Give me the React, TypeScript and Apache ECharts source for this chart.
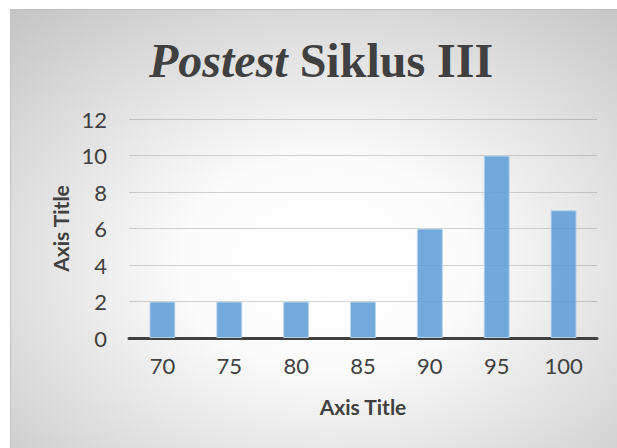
import React, { useEffect, useRef } from "react";
import * as echarts from "echarts";

const categories = ["70", "75", "80", "85", "90", "95", "100"];
const values = [2, 2, 2, 2, 6, 10, 7];
const yTicks = { min: 0, max: 12, interval: 2 };
const titleItalic = "Postest";
const titleRest = "Siklus III";
const xAxisTitle = "Axis Title";
const yAxisTitle = "Axis Title";

export default function App() {
  const ref = useRef<HTMLDivElement>(null);
  useEffect(() => {
    if (!ref.current) return;
    const chart = echarts.init(ref.current, undefined, { renderer: "svg" });
    const serif = {
      fontFamily: "Liberation Serif",
      fontWeight: "bold",
      fontSize: 48,
      color: "#404040",
    };
    chart.setOption({
      animation: false,
      backgroundColor: {
        type: "radial",
        x: 0.52,
        y: 0.58,
        r: 0.8,
        colorStops: [
          { offset: 0, color: "#ffffff" },
          { offset: 0.3, color: "#fbfbfb" },
          { offset: 1, color: "#c2c2c2" },
        ],
      },
      title: {
        text: `{i|${titleItalic}\u00a0}{b|${titleRest}}`,
        left: 138,
        top: 26,
        padding: 0,
        textStyle: {
          rich: {
            i: { ...serif, fontStyle: "italic" },
            b: { ...serif },
          },
        },
      },
      grid: { left: 118, right: 20, top: 109, bottom: 110 },
      xAxis: {
        type: "category",
        data: categories,
        name: xAxisTitle,
        nameLocation: "middle",
        nameGap: 58,
        nameTextStyle: {
          fontFamily: "Lato",
          fontWeight: "bold",
          fontSize: 21,
          color: "#404040",
        },
        axisLine: { lineStyle: { color: "#404040", width: 3 } },
        axisTick: { show: false },
        axisLabel: {
          margin: 16,
          fontFamily: "Lato",
          fontSize: 22,
          color: "#404040",
        },
      },
      yAxis: {
        type: "value",
        min: yTicks.min,
        max: yTicks.max,
        interval: yTicks.interval,
        name: yAxisTitle,
        nameLocation: "middle",
        nameGap: 58,
        nameTextStyle: {
          fontFamily: "Lato",
          fontWeight: "bold",
          fontSize: 21,
          color: "#404040",
        },
        axisLine: { show: false },
        axisTick: { show: false },
        axisLabel: {
          margin: 22,
          fontFamily: "Lato",
          fontSize: 22,
          color: "#404040",
        },
        splitLine: { lineStyle: { color: "rgba(0,0,0,0.16)", width: 1 } },
      },
      series: [
        {
          type: "bar",
          data: values,
          barWidth: 26,
          itemStyle: {
            color: "rgba(91,155,213,0.85)",
            borderColor: "rgba(189,215,238,0.9)",
            borderWidth: 1,
          },
        },
      ],
    });
    return () => chart.dispose();
  }, []);
  return (
    <div
      style={{
        position: "absolute",
        left: 10,
        top: 9,
        width: 607,
        height: 439,
        borderTop: "1px solid #bfbfbf",
        borderLeft: "1px solid #c4c4c4",
        boxSizing: "border-box",
      }}
    >
      <div ref={ref} style={{ width: "100%", height: "100%" }} />
    </div>
  );
}
